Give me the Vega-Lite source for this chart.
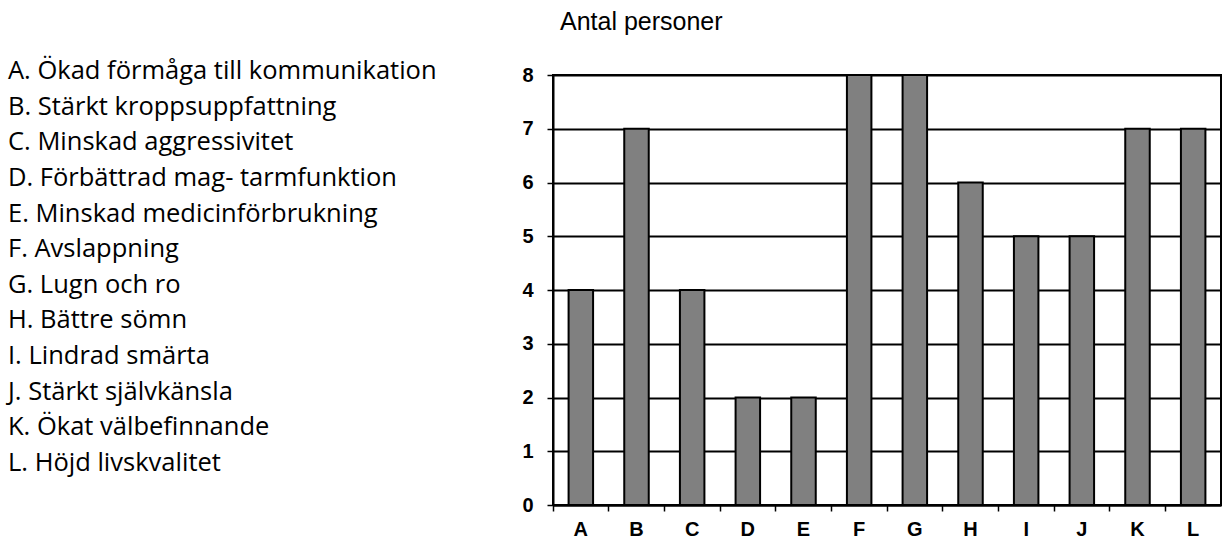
{
  "$schema": "https://vega.github.io/schema/vega-lite/v6.json",
  "padding": {"left": 8, "top": 9, "right": 0, "bottom": 0},
  "bounds": "flush",
  "spacing": 45,
  "background": "white",
  "data": {"values": [
    {"k": "A", "row": 1, "n": 4, "label": "A. Ökad förmåga till kommunikation"},
    {"k": "B", "row": 2, "n": 7, "label": "B. Stärkt kroppsuppfattning"},
    {"k": "C", "row": 3, "n": 4, "label": "C. Minskad aggressivitet"},
    {"k": "D", "row": 4, "n": 2, "label": "D. Förbättrad mag- tarmfunktion"},
    {"k": "E", "row": 5, "n": 2, "label": "E. Minskad medicinförbrukning"},
    {"k": "F", "row": 6, "n": 8, "label": "F. Avslappning"},
    {"k": "G", "row": 7, "n": 8, "label": "G. Lugn och ro"},
    {"k": "H", "row": 8, "n": 6, "label": "H. Bättre sömn"},
    {"k": "I", "row": 9, "n": 5, "label": "I. Lindrad smärta"},
    {"k": "J", "row": 10, "n": 5, "label": "J. Stärkt självkänsla"},
    {"k": "K", "row": 11, "n": 7, "label": "K. Ökat välbefinnande"},
    {"k": "L", "row": 12, "n": 7, "label": "L. Höjd livskvalitet"}
  ]},
  "hconcat": [
    {
      "width": 500,
      "height": 430,
      "view": {"stroke": null},
      "mark": {"type": "text", "align": "left", "baseline": "middle", "font": "Open Sans", "fontSize": 25.5, "color": "black"},
      "encoding": {
        "x": {"value": 0},
        "y": {"field": "row", "type": "quantitative", "axis": null,
              "scale": {"domain": [1.1122, 13.177], "reverse": true, "nice": false, "zero": false}},
        "text": {"field": "label"}
      }
    },
    {
      "width": 668,
      "height": 430,
      "view": {"stroke": "black", "strokeWidth": 2},
      "title": {"text": "Antal personer", "anchor": "start", "frame": "group", "dx": 7, "offset": 10,
                "baseline": "alphabetic", "font": "Arial", "fontSize": 25, "fontWeight": "normal", "color": "black"},
      "mark": {"type": "bar", "color": "#808080", "stroke": "black", "strokeWidth": 2, "width": {"band": 0.44}},
      "encoding": {
        "x": {"field": "k", "type": "nominal", "title": null, "sort": null,
              "scale": {"paddingInner": 0, "paddingOuter": 0},
              "axis": {"bandPosition": 0, "labelAngle": 0, "labelFont": "Arial", "labelFontWeight": "bold",
                       "labelFontSize": 20, "labelColor": "black", "labelPadding": 8, "tickSize": 6, "tickColor": "black",
                       "tickWidth": 1.5, "domainColor": "black", "domainWidth": 2}},
        "y": {"field": "n", "type": "quantitative", "title": null,
              "scale": {"domain": [0, 8], "nice": false},
              "axis": {"values": [0, 1, 2, 3, 4, 5, 6, 7, 8], "labelFont": "Arial", "labelFontWeight": "bold", "labelFontSize": 20,
                       "labelColor": "black", "labelPadding": 14, "tickSize": 6, "tickColor": "black", "tickWidth": 1.5,
                       "domainColor": "black", "domainWidth": 2, "grid": true, "gridColor": "black", "gridWidth": 2, "gridOpacity": 1}}
      }
    }
  ]
}
